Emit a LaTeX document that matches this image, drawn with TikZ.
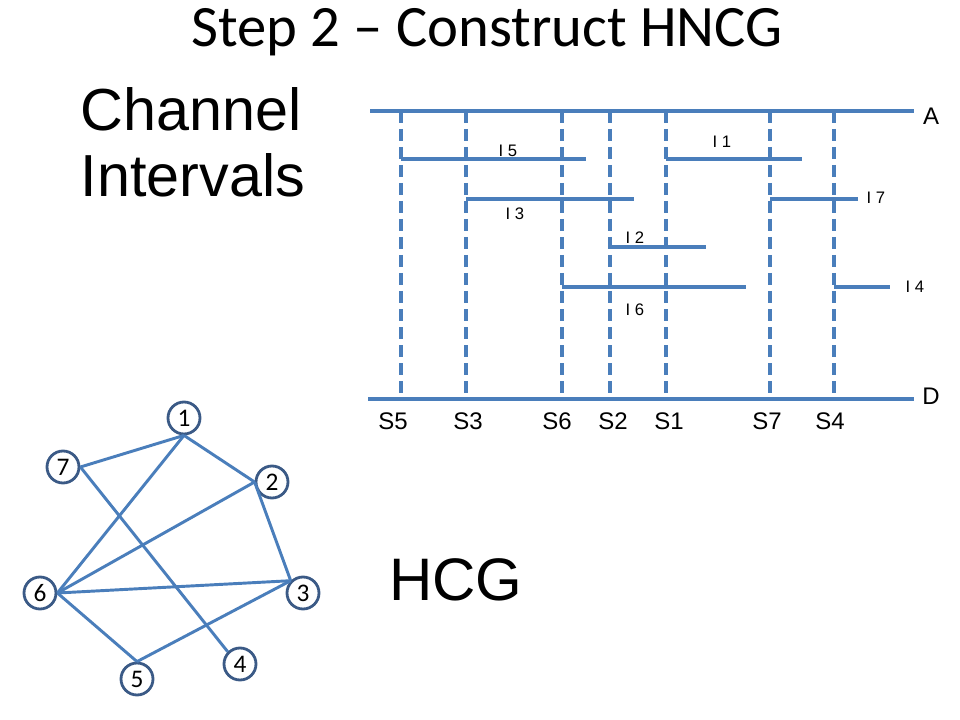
\documentclass[tikz,border=0pt]{standalone}
\usepackage{fontspec}
\setmainfont{Carlito}
\newfontfamily\arialfont{Liberation Sans}
\usepackage{tikz}
\usetikzlibrary{positioning,calc}
\definecolor{lineblue}{HTML}{4A7EBB}
\definecolor{ringblue}{HTML}{3B5A86}

\tikzset{
  chan/.style={lineblue, line width=2.7pt},
  column/.style={lineblue, line width=2.7pt, dash pattern=on 9pt off 4.5pt},
  ilabel/.style={font=\arialfont\fontsize{12.5}{14}\selectfont},
  slabel/.style={font=\arialfont\fontsize{18}{21}\selectfont},
  vertex/.style={circle, draw=ringblue, line width=2.1pt, fill=white,
    minimum size=24pt, inner sep=0pt, font=\fontsize{19}{21}\selectfont},
  edge/.style={lineblue, line width=2.2pt}
}

\begin{document}
\begin{tikzpicture}[x=0.75pt, y=-0.75pt]
  \useasboundingbox (0,0) rectangle (960,720);
  % titles
  \node (title) at (487,32) {\fontsize{44}{48}\selectfont Step 2 -- Construct HNCG};
  \node[anchor=west, align=left, font=\arialfont\fontsize{44.5}{49.5}\selectfont] (chint) at (76,142) {Channel\\Intervals};
  \node[font=\arialfont\fontsize{45}{50}\selectfont] (hcg) at (456,580) {HCG};

  % channel
  \draw[chan] (370,111) -- (914,111);
  \draw[chan] (368,399) -- (914,399);
  \node[slabel] (A) at (931,116) {A};
  \node[slabel] (D) at (931,396) {D};
  \foreach \x/\s/\lx in {401/5/393, 466/3/468, 562/6/557, 610/2/613, 666/1/669, 770/7/767, 834/4/830} {
    \draw[column] (\x,111) -- (\x,399);
    \node[slabel] (s\s) at (\lx,421) {S\s};
  }

  % intervals
  \draw[chan] (401,159) -- (586,159);
  \node[ilabel] (i5) at (508,151) {I 5};
  \draw[chan] (666,159) -- (802,159);
  \node[ilabel] (i1) at (722,142) {I 1};
  \draw[chan] (466,199) -- (634,199);
  \node[ilabel] (i3) at (515,214) {I 3};
  \draw[chan] (770,199) -- (858,199);
  \node[ilabel] (i7) at (876,198) {I 7};
  \draw[chan] (610,247) -- (706,247);
  \node[ilabel] (i2) at (635,238) {I 2};
  \draw[chan] (562,287) -- (746,287);
  \node[ilabel] (i6) at (635,310) {I 6};
  \draw[chan] (834,287) -- (890,287);
  \node[ilabel] (i4) at (915,287) {I 4};

  % HCG
  \node[vertex] (n1) at (184,418) {1};
  \node[vertex] (n7) at (63,467) {7};
  \node[vertex] (n2) at (272,482) {2};
  \node[vertex] (n6) at (40,593) {6};
  \node[vertex] (n3) at (303,593) {3};
  \node[vertex] (n4) at (240,664) {4};
  \node[vertex] (n5) at (137,679) {5};
  \draw[edge] (n7.east) -- (n1.south);
  \draw[edge] (n1.south) -- (n2.west);
  \draw[edge] (n6.east) -- (n1.south);
  \draw[edge] (n7.east) -- (n4.north west);
  \draw[edge] (n6.east) -- (n2.west);
  \draw[edge] (n2.west) -- (n3.north west);
  \draw[edge] (n6.east) -- (n3.north west);
  \draw[edge] (n6.east) -- (n5.north);
  \draw[edge] (n5.north) -- (n3.north west);
\end{tikzpicture}
\end{document}
